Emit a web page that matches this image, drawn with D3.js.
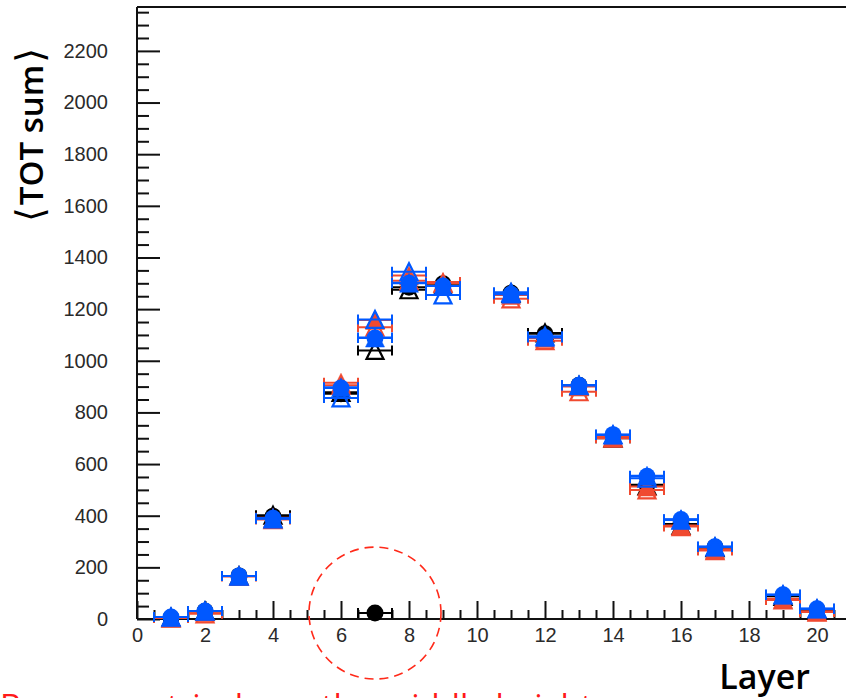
<!DOCTYPE html>
<html>
<head>
<meta charset="utf-8">
<script src="https://cdn.jsdelivr.net/npm/d3@7"></script>
<style>
  html, body { margin: 0; padding: 0; background: #fff; overflow: hidden; }
  svg { display: block; }
</style>
</head>
<body>
<svg id="chart" width="846" height="698"></svg>
<script>
// Mean TOT sum per layer, three configurations, each with three marker sets
const layers = [1, 2, 3, 4, 6, 7, 8, 9, 11, 12, 13, 14, 15, 16, 17, 19, 20];

const blackCircle  = [5, 30, 167, 398, 872, 23, 1285, 1298, 1262, 1105, 905, 708, 520, 368, 278, 90, 36];
const blackOpenTri = [5, 30, 167, 402, 878, 1040, 1275, 1290, 1262, 1108, 903, 700, 515, 362, 276, 88, 35];
const redFullTri   = [5, 28, 167, 392, 915, 1158, 1330, 1305, 1255, 1088, 900, 706, 513, 362, 270, 78, 30];
const redOpenTri   = [4, 20, 165, 385, 905, 1130, 1310, 1300, 1240, 1078, 880, 700, 500, 358, 265, 74, 27];
const blueCircle   = [8, 31, 167, 390, 895, 1088, 1300, 1290, 1258, 1090, 905, 714, 553, 385, 280, 94, 40];
const blueFullTri  = [8, 31, 167, 390, 897, 1090, 1302, 1290, 1260, 1092, 905, 714, 555, 386, 280, 94, 40];
const blueOpenTri  = [8, 31, 167, 388, 856, 1160, 1345, 1255, 1265, 1095, 905, 714, 545, 383, 280, 94, 40];

const xErr = 0.5;                 // half bin width
const outlierLayer = 7;           // layer with the collapsed value
const outlierValue = blackCircle[layers.indexOf(outlierLayer)];

const xTickValues = [0, 2, 4, 6, 8, 10, 12, 14, 16, 18, 20];
const yTickValues = [0, 200, 400, 600, 800, 1000, 1200, 1400, 1600, 1800, 2000, 2200];

const xTitle = "Layer";
const yTitleParts = ["\u27E8", "TOT sum", "\u27E9"];
const note = "Bar geometrical, see the middle height";

const BLACK = "#000000", RED = "#f04a30", BLUE = "#0058ff";

const series = [
  { values: blackOpenTri, color: BLACK, shape: "tri", fill: false },
  { values: blackCircle,  color: BLACK, shape: "circle", fill: true },
  { values: redOpenTri,   color: RED,   shape: "tri", fill: false },
  { values: redFullTri,   color: RED,   shape: "tri", fill: true },
  { values: blueOpenTri,  color: BLUE,  shape: "tri", fill: false },
  { values: blueCircle,   color: BLUE,  shape: "circle", fill: true },
  { values: blueFullTri,  color: BLUE,  shape: "tri", fill: true }
];

const W = 846, H = 698;
const plotLeft = 137, plotTop = 7, plotBottom = 619;

const x = d3.scaleLinear().domain([0, 21]).range([plotLeft, plotLeft + 21 * 34]);
const y = d3.scaleLinear().domain([0, 2370]).range([plotBottom, plotTop]);

const svg = d3.select("#chart");

// frame
const frame = svg.append("g").attr("stroke", "#111").attr("stroke-width", 2).attr("fill", "none");
frame.append("line").attr("x1", plotLeft).attr("x2", W + 2).attr("y1", plotTop).attr("y2", plotTop);
frame.append("line").attr("x1", plotLeft).attr("x2", plotLeft).attr("y1", plotTop).attr("y2", plotBottom);

// x axis, ticks drawn inward (upward)
const xAxis = d3.axisBottom(x)
  .tickValues(xTickValues)
  .tickSize(-18)
  .tickPadding(24)
  .tickFormat(d3.format("d"));
const gx = svg.append("g").attr("transform", `translate(0,${plotBottom})`).call(xAxis);
gx.select(".domain").attr("d", `M${plotLeft},0H${W + 2}`).attr("stroke", "#111").attr("stroke-width", 2);

const xMinor = d3.range(0, 21.01, 0.5).filter(v => v % 2 !== 0);
const gxm = svg.append("g").attr("transform", `translate(0,${plotBottom})`)
  .call(d3.axisBottom(x).tickValues(xMinor).tickSize(-9).tickFormat(""));
gxm.select(".domain").remove();

// y axis, ticks drawn inward (rightward)
const yAxis = d3.axisLeft(y)
  .tickValues(yTickValues)
  .tickSize(-23)
  .tickPadding(29)
  .tickFormat(d3.format("d"));
const gy = svg.append("g").attr("transform", `translate(${plotLeft},0)`).call(yAxis);
gy.select(".domain").remove();

const yMinor = d3.range(0, 2351, 50).filter(v => v % 200 !== 0);
const gym = svg.append("g").attr("transform", `translate(${plotLeft},0)`)
  .call(d3.axisLeft(y).tickValues(yMinor).tickSize(-12).tickFormat(""));
gym.select(".domain").remove();

svg.selectAll(".tick line").attr("stroke", "#111").attr("stroke-width", 2);
svg.selectAll(".tick text")
  .attr("font-family", "'Liberation Sans', Arial, sans-serif")
  .attr("font-size", 20)
  .attr("fill", "#2a2a2a");
gx.selectAll(".tick text").attr("dy", "0").attr("y", 23);

// upward triangle inside a square of side 2s centred at the origin
const triPath = (s) => `M0,${-s}L${s},${s}L${-s},${s}Z`;

// data: horizontal bin-width bars with end caps, then markers
series.forEach(s => {
  const g = svg.append("g");
  const pts = layers.map((l, i) => ({ l, v: s.values[i] }));

  g.selectAll("line.bar").data(pts).join("line").attr("class", "bar")
    .attr("x1", d => x(d.l - xErr)).attr("x2", d => x(d.l + xErr))
    .attr("y1", d => y(d.v)).attr("y2", d => y(d.v))
    .attr("stroke", s.color).attr("stroke-width", 2);
  g.selectAll("line.capL").data(pts).join("line").attr("class", "capL")
    .attr("x1", d => x(d.l - xErr)).attr("x2", d => x(d.l - xErr))
    .attr("y1", d => y(d.v) - 5).attr("y2", d => y(d.v) + 5)
    .attr("stroke", s.color).attr("stroke-width", 2);
  g.selectAll("line.capR").data(pts).join("line").attr("class", "capR")
    .attr("x1", d => x(d.l + xErr)).attr("x2", d => x(d.l + xErr))
    .attr("y1", d => y(d.v) - 5).attr("y2", d => y(d.v) + 5)
    .attr("stroke", s.color).attr("stroke-width", 2);

  if (s.shape === "circle") {
    g.selectAll("circle").data(pts).join("circle")
      .attr("cx", d => x(d.l)).attr("cy", d => y(d.v)).attr("r", 8.5)
      .attr("fill", s.color);
  } else {
    g.selectAll("path").data(pts).join("path")
      .attr("transform", d => `translate(${x(d.l)},${y(d.v)})`)
      .attr("d", triPath(s.fill ? 9.5 : 8.5))
      .attr("fill", s.fill ? s.color : "none")
      .attr("stroke", s.color)
      .attr("stroke-width", s.fill ? 0.5 : 2.2)
      .attr("stroke-linejoin", "miter");
  }
});

// dashed ring around the collapsed layer
svg.append("circle")
  .attr("cx", x(outlierLayer)).attr("cy", y(outlierValue)).attr("r", 66)
  .attr("fill", "none").attr("stroke", "#ff2a1a").attr("stroke-width", 1.6)
  .attr("stroke-dasharray", "9,6");

// axis titles; the angle brackets use a thin, tall glyph
const yt = svg.append("text")
  .attr("transform", "translate(43,135) rotate(-90)")
  .attr("text-anchor", "middle")
  .attr("font-family", "'Open Sans', 'Noto Sans', sans-serif")
  .attr("font-weight", 600)
  .attr("font-size", 33)
  .attr("fill", "#000");
yt.append("tspan").attr("font-family", "'DejaVu Sans', sans-serif").attr("font-weight", 400)
  .attr("font-size", 38).text(yTitleParts[0]);
yt.append("tspan").attr("dx", 2).text(yTitleParts[1]);
yt.append("tspan").attr("dx", 2).attr("font-family", "'DejaVu Sans', sans-serif").attr("font-weight", 400)
  .attr("font-size", 38).text(yTitleParts[2]);

svg.append("text")
  .attr("x", 810).attr("y", 689)
  .attr("text-anchor", "end")
  .attr("font-family", "'Open Sans', 'Noto Sans', sans-serif")
  .attr("font-weight", 600)
  .attr("font-size", 34)
  .attr("fill", "#000")
  .text(xTitle);

// note below the plot
svg.append("text")
  .attr("x", 0).attr("y", 718)
  .attr("font-family", "'Open Sans', 'Noto Sans', sans-serif")
  .attr("font-size", 33)
  .attr("fill", "#ff1a1a")
  .text(note);
</script>
</body>
</html>
